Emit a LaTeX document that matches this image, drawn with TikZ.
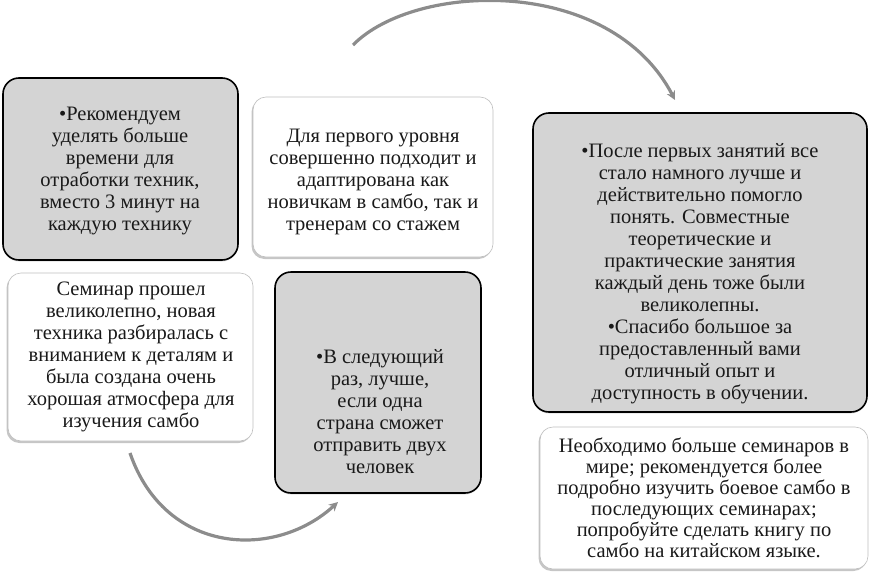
\documentclass[tikz,border=0pt]{standalone}
\usepackage{fontspec}
\setmainfont{Liberation Serif}
\usetikzlibrary{shadows, arrows.meta}

\tikzset{
  graybox/.style={draw=black, line width=1.6pt, fill=black!17, rounded corners=16pt,
    drop shadow={shadow xshift=0pt, shadow yshift=-1.5pt, opacity=0.3, fill=black!40}},
  whitebox/.style={draw=black!25, line width=0.6pt, fill=white, rounded corners=13pt,
    drop shadow={shadow xshift=-1.5pt, shadow yshift=-2pt, opacity=0.45, fill=black!50}},
  boxtext/.style={align=center, font=\fontsize{20.5}{22}\selectfont, text=black!90, inner sep=0pt},
  cyclearrow/.style={line width=3.2pt, draw=black!45, -{Stealth[length=9pt, width=9pt]}}
}

\begin{document}
\begin{tikzpicture}[x=1pt, y=-1pt]
        \useasboundingbox (0,0) rectangle (872,573);

        % Define corners of the boxes
        \coordinate (A1) at (3, 78);    \coordinate (A2) at (238, 260);
        \coordinate (B1) at (253, 97);  \coordinate (B2) at (493, 257);
        \coordinate (C1) at (533, 113); \coordinate (C2) at (867, 412);
        \coordinate (D1) at (8, 273);   \coordinate (D2) at (253, 441);
        \coordinate (E1) at (275, 272); \coordinate (E2) at (481, 493);
        \coordinate (F1) at (540, 427); \coordinate (F2) at (868, 569);

        % Define ends of the arrows
        \coordinate (P1) at (353, 45);  % Top arrow start
        \coordinate (P2) at (675, 100); % Top arrow end
        \coordinate (Q1) at (130, 453); % Bottom arrow start
        \coordinate (Q2) at (338, 502); % Bottom arrow end

        % Draw the boxes
        \draw[graybox]  (A1) rectangle (A2);
        \draw[whitebox] (B1) rectangle (B2);
        \draw[graybox]  (C1) rectangle (C2);
        \draw[whitebox] (D1) rectangle (D2);
        \draw[graybox]  (E1) rectangle (E2);
        \draw[whitebox] (F1) rectangle (F2);

        % Texts inside the boxes
        \node[boxtext] (tA) at (120, 171) {•Рекомендуем\\уделять больше\\времени для\\отработки техник,\\вместо 3 минут на\\каждую технику};
        \node[boxtext] (tB) at (373, 182) {Для первого уровня\\совершенно подходит и\\адаптирована как\\новичкам в самбо, так и\\тренерам со стажем};
        \node[boxtext] (tC) at (700, 274) {•После первых занятий все\\стало намного лучше и\\действительно помогло\\понять. Совместные\\теоретические и\\практические занятия\\каждый день тоже были\\великолепны.\\•Спасибо большое за\\предоставленный вами\\отличный опыт и\\доступность в обучении.};
        \node[boxtext] (tD) at (131, 357) {Семинар прошел\\великолепно, новая\\техника разбиралась с\\вниманием к деталям и\\была создана очень\\хорошая атмосфера для\\изучения самбо};
        \node[boxtext] (tE) at (380, 412) {•В следующий\\раз, лучше,\\если одна\\страна сможет\\отправить двух\\человек};
        \node[boxtext, font=\fontsize{20.5}{21}\selectfont] (tF) at (704, 498) {Необходимо больше семинаров в\\мире; рекомендуется более\\подробно изучить боевое самбо в\\последующих семинарах;\\попробуйте сделать книгу по\\самбо на китайском языке.};

        % Draw the curved arrows
        \draw[cyclearrow] (P1) .. controls (415, -18) and (610, -25) .. (P2);
        \draw[cyclearrow] (Q1) .. controls (165, 555) and (275, 560) .. (Q2);

    \end{tikzpicture}
\end{document}
